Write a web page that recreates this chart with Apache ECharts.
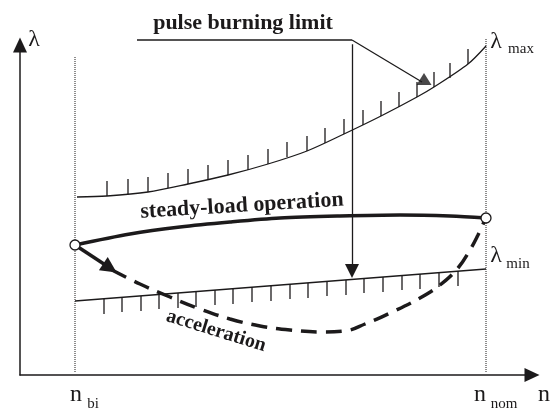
<!DOCTYPE html>
<html>
<head>
<meta charset="utf-8">
<script src="https://cdn.jsdelivr.net/npm/echarts@6/dist/echarts.min.js"></script>
<style>
  html, body { margin: 0; padding: 0; background: #fff; }
  #chart { width: 551px; height: 414px; }
</style>
</head>
<body>
<div id="chart"></div>
<script>
// schematic coordinates: x = n (0 at the λ axis), y = λ (0 at the n axis)
const nBi = 55
const nNom = 466

// upper limit λmax (hatched above)
const lambdaMax = [[57, 178], [87, 179], [128, 183], [168, 191], [208, 200], [248, 211], [287, 224], [324, 241], [361, 259], [397, 278], [414, 288], [448, 311], [466, 329]]
const lambdaMaxHatch = [[87, 179], [108, 181], [128, 183], [148, 187], [168, 191], [188, 195], [208, 200], [228, 205], [248, 211], [267, 218], [287, 224], [305, 232], [324, 241], [343, 250], [361, 259], [379, 268], [397, 278], [414, 288], [430, 297], [448, 311]]

// lower limit λmin (hatched below)
const lambdaMin = [[55, 74], [466, 106]]
const lambdaMinHatch = [[84, 76], [102, 78], [121, 79], [139, 81], [158, 82], [176, 83], [195, 85], [213, 86], [232, 88], [251, 89], [270, 91], [288, 92], [307, 94], [326, 95], [344, 97], [363, 98], [382, 100], [400, 101], [419, 103], [438, 104]]

// steady-load operation
const steadyLoad = [[55, 130], [110, 141], [160, 148], [210, 153], [260, 157], [320, 159], [380, 160], [430, 159], [466, 157]]

// acceleration
const accelArrow = [[55, 130], [90, 107]]
const acceleration = [[92, 105], [120, 91], [150, 78], [180, 66], [210, 56], [240, 49], [270, 45], [300, 43], [325, 44], [345, 51], [370, 62], [400, 77], [420, 90], [438, 107], [450, 125], [458, 140], [464, 153]]

// pulse burning limit pointer
const pulseLeader = [[117, 335], [332, 335]]
const pulseDown = [[332, 335], [332, 104]]
const pulseDiag = [[332, 335], [402, 293]]
const pulseHead = [[404, 296]]

const ink = '#1c1a1b'
const chart = echarts.init(document.getElementById('chart'))

function hatch(data, len) {
  return {
    type: 'custom',
    data: data,
    clip: false,
    renderItem(params, api) {
      const p = api.coord([api.value(0), api.value(1)])
      return {
        type: 'line',
        shape: { x1: p[0], y1: p[1], x2: p[0], y2: p[1] + len },
        style: { stroke: ink, lineWidth: 1.3 }
      }
    }
  }
}

function plain(data, width, extra) {
  return Object.assign({
    type: 'line',
    data: data,
    symbol: 'none',
    clip: false,
    silent: true,
    lineStyle: { color: ink, width: width },
    z: 3
  }, extra || {})
}

function arrow(coords, width, size) {
  return {
    type: 'lines',
    coordinateSystem: 'cartesian2d',
    data: [{ coords: coords }],
    symbol: ['none', 'triangle'],
    symbolSize: size,
    silent: true,
    lineStyle: { color: ink, width: width, opacity: 1 },
    z: 4
  }
}

const serif = '"Liberation Serif", "DejaVu Serif", serif'
function label(text, x, y, size, opts) {
  opts = opts || {}
  return {
    type: 'text',
    x: x,
    y: y,
    rotation: opts.rotation || 0,
    style: {
      text: text,
      fill: ink,
      font: (opts.bold ? 'bold ' : '') + size + 'px ' + serif,
      align: 'center',
      verticalAlign: 'middle',
      textAlign: 'center',
      textVerticalAlign: 'middle'
    }
  }
}

// only the two ends of the steady-load line carry an open circle
const steadyData = steadyLoad.map((p, i) => ({
  value: p,
  symbol: (i === 0 || i === steadyLoad.length - 1) ? 'circle' : 'none'
}))

chart.setOption({
  animation: false,
  grid: { left: 20, right: 19, top: 45, bottom: 39 },
  xAxis: {
    type: 'value',
    min: 0,
    max: 512,
    axisLine: { lineStyle: { color: ink, width: 1.5 }, symbol: ['none', 'triangle'], symbolSize: [14, 15] },
    axisTick: { show: false },
    axisLabel: { show: false },
    splitLine: { show: false }
  },
  yAxis: {
    type: 'value',
    min: 0,
    max: 330,
    axisLine: { lineStyle: { color: ink, width: 1.5 }, symbol: ['none', 'triangle'], symbolSize: [14, 15] },
    axisTick: { show: false },
    axisLabel: { show: false },
    splitLine: { show: false }
  },
  series: [
    plain([[nBi, 3], [nBi, 318]], 1, { lineStyle: { color: ink, width: 1, type: 'dotted' } }),
    plain([[nNom, 3], [nNom, 337]], 1, { lineStyle: { color: ink, width: 1, type: 'dotted' } }),
    plain(lambdaMax, 1.3, { smooth: 0.3 }),
    hatch(lambdaMaxHatch, -15),
    plain(lambdaMin, 1.3),
    hatch(lambdaMinHatch, 15),
    plain(steadyData, 3.5, {
      smooth: 0.3,
      symbolSize: 10,
      showSymbol: true,
      itemStyle: { color: '#fff', borderColor: ink, borderWidth: 1.3 },
      z: 5
    }),
    plain(acceleration, 3.5, { smooth: 0.4, lineStyle: { color: ink, width: 3.5, type: [16, 9] } }),
    plain(pulseLeader, 1.3),
    plain(pulseDiag, 1.3),
    arrow(accelArrow, 3.5, [15, 16]),
    arrow(pulseDown, 1.3, [12, 14]),
    {
      type: 'scatter',
      data: pulseHead,
      symbol: 'triangle',
      symbolSize: [15, 12],
      itemStyle: { color: ink },
      silent: true,
      clip: false,
      z: 4
    }
  ],
  graphic: [
    label('pulse burning limit', 243, 23, 22, { bold: true }),
    label('steady-load operation', 242, 206, 22, { bold: true, rotation: 0.06 }),
    label('acceleration', 216, 331, 20, { bold: true, rotation: -0.3 }),
    label('λ', 34, 40, 24),
    label('n', 544, 395, 24),
    label('n', 76, 395, 24),
    label('bi', 93, 404, 15),
    label('n', 480, 395, 24),
    label('nom', 504, 404, 15),
    label('λ', 496, 42, 24),
    label('max', 521, 49, 15),
    label('λ', 496, 256, 24),
    label('min', 518, 264, 15)
  ]
})
</script>
</body>
</html>
